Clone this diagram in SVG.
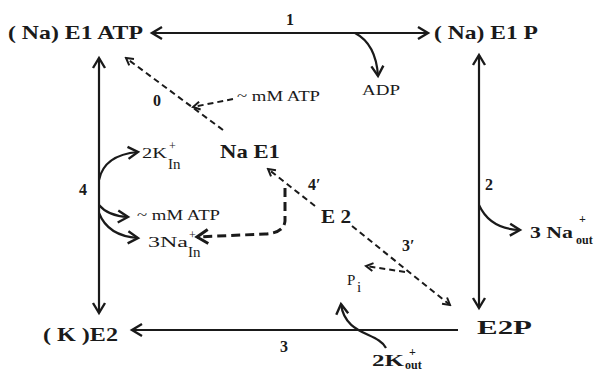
<svg xmlns="http://www.w3.org/2000/svg" width="600" height="372" viewBox="0 0 600 372">
<style>
.node{font-family:"Liberation Serif",serif;font-weight:bold;font-size:19px;fill:#1a1a1a}
.lbl{font-family:"Liberation Serif",serif;font-weight:bold;font-size:16px;fill:#1a1a1a}
.sm{font-family:"Liberation Serif",serif;font-size:15px;fill:#1a1a1a}
.sub{font-family:"Liberation Serif",serif;font-size:12px;fill:#1a1a1a}
.ln{stroke:#1a1a1a;stroke-width:2.2;fill:none}
.dash{stroke:#1a1a1a;stroke-width:2;fill:none;stroke-dasharray:6 4}
.thick{stroke:#1a1a1a;stroke-width:3;fill:none;stroke-dasharray:9 5}
</style>
<defs>
<marker id="ah" markerUnits="userSpaceOnUse" markerWidth="16" markerHeight="16" viewBox="-12 -8 14 16" refX="0" refY="0" orient="auto-start-reverse">
<path d="M-10,-6 L0,0 L-10,6" fill="none" stroke="#1a1a1a" stroke-width="2.4"/>
</marker>
<marker id="ahs" markerUnits="userSpaceOnUse" markerWidth="12" markerHeight="12" viewBox="-9 -6 10 12" refX="0" refY="0" orient="auto">
<path d="M-7,-4 L0,0 L-7,4" fill="none" stroke="#1a1a1a" stroke-width="2"/>
</marker>
<marker id="ahb" markerUnits="userSpaceOnUse" markerWidth="18" markerHeight="18" viewBox="-13 -9 15 18" refX="0" refY="0" orient="auto">
<path d="M-11,-7 L0,0 L-11,7" fill="none" stroke="#1a1a1a" stroke-width="3"/>
</marker>
</defs>

<g id="connectors">
<line class="ln" x1="152" y1="33" x2="428" y2="33" marker-start="url(#ah)" marker-end="url(#ah)"/>
<line class="ln" x1="99" y1="58" x2="99" y2="313" marker-start="url(#ah)" marker-end="url(#ah)"/>
<line class="ln" x1="479" y1="55" x2="479" y2="308" marker-start="url(#ah)" marker-end="url(#ah)"/>
<line class="ln" x1="458" y1="330" x2="132" y2="330" marker-end="url(#ah)"/>
<path class="ln" d="M355,33 Q376,44 378,76" marker-end="url(#ah)"/>
<path class="ln" d="M479,205 Q490,229 520,230" marker-end="url(#ah)"/>
<path class="ln" d="M99,180 Q104,155 138,152" marker-end="url(#ah)"/>
<path class="ln" d="M99,205 Q108,216 128,217" marker-end="url(#ah)"/>
<path class="ln" d="M99,213 Q108,236 138,238" marker-end="url(#ah)"/>
<path class="ln" d="M386,348 C378,332 345,336 341,304" marker-end="url(#ah)"/>
<line class="dash" x1="223" y1="130" x2="126" y2="58" marker-end="url(#ahs)"/>
<line class="dash" x1="233" y1="99" x2="193" y2="107" marker-end="url(#ahs)"/>
<line class="dash" x1="315" y1="206" x2="268" y2="169" marker-end="url(#ahs)"/>
<line class="dash" x1="352" y1="226" x2="450" y2="305" marker-end="url(#ahs)"/>
<line class="dash" x1="405" y1="272" x2="366" y2="266" marker-end="url(#ahs)"/>
<path class="thick" d="M285,188 L285,221 Q284,233 265,234 L197,237" marker-end="url(#ahb)"/>
</g>

<g id="n-na-e1-atp"><text class="node" x="8" y="39" textLength="135" lengthAdjust="spacingAndGlyphs">( Na) E1 ATP</text></g>
<g id="n-na-e1-p"><text class="node" x="434" y="39" textLength="104" lengthAdjust="spacingAndGlyphs">( Na) E1 P</text></g>
<g id="n-na-e1"><text class="node" x="220" y="158" font-size="18" textLength="60" lengthAdjust="spacingAndGlyphs">Na E1</text></g>
<g id="n-e2"><text class="node" x="321" y="223" font-size="18" textLength="30" lengthAdjust="spacingAndGlyphs">E 2</text></g>
<g id="n-k-e2"><text class="node" x="43" y="341" textLength="75" lengthAdjust="spacingAndGlyphs">( K )E2</text></g>
<g id="n-e2p"><text class="node" x="477" y="334" textLength="55" lengthAdjust="spacingAndGlyphs">E2P</text></g>

<g id="labels">
<text class="lbl" x="286" y="25">1</text>
<text class="lbl" x="485" y="190">2</text>
<text class="lbl" x="280" y="352">3</text>
<text class="lbl" x="79" y="195">4</text>
<text class="lbl" x="153" y="106">0</text>
<text class="lbl" x="308" y="190">4′</text>
<text class="lbl" x="402" y="251">3′</text>

<text class="sm" x="237" y="101" font-size="14" textLength="83" lengthAdjust="spacingAndGlyphs">~ mM ATP</text>
<text class="sm" x="362" y="95" textLength="38" lengthAdjust="spacingAndGlyphs">ADP</text>
<text class="sm" x="137" y="220" font-size="14" textLength="83" lengthAdjust="spacingAndGlyphs">~ mM ATP</text>

<text class="sm" x="142" y="158" textLength="25" lengthAdjust="spacingAndGlyphs">2K</text>
<text class="sub" x="169" y="150">+</text>
<text class="sm" x="168" y="169" font-size="14">In</text>

<text class="sm" x="148" y="247" textLength="40" lengthAdjust="spacingAndGlyphs">3Na</text>
<text class="sub" x="189" y="239">+</text>
<text class="sm" x="188" y="257" font-size="14">In</text>

<text class="sm" x="347" y="285">P</text>
<text class="sm" x="357" y="292" font-size="13">i</text>

<text class="lbl" x="530" y="238" font-size="17" textLength="43" lengthAdjust="spacingAndGlyphs">3 Na</text>
<text class="sub" x="579" y="223" font-weight="bold">+</text>
<text class="sub" x="576" y="244" font-weight="bold">out</text>

<text class="lbl" x="372" y="366" font-size="18" textLength="32" lengthAdjust="spacingAndGlyphs">2K</text>
<text class="sub" x="409" y="356" font-weight="bold">+</text>
<text class="sub" x="405" y="369" font-weight="bold">out</text>
</g>
</svg>
